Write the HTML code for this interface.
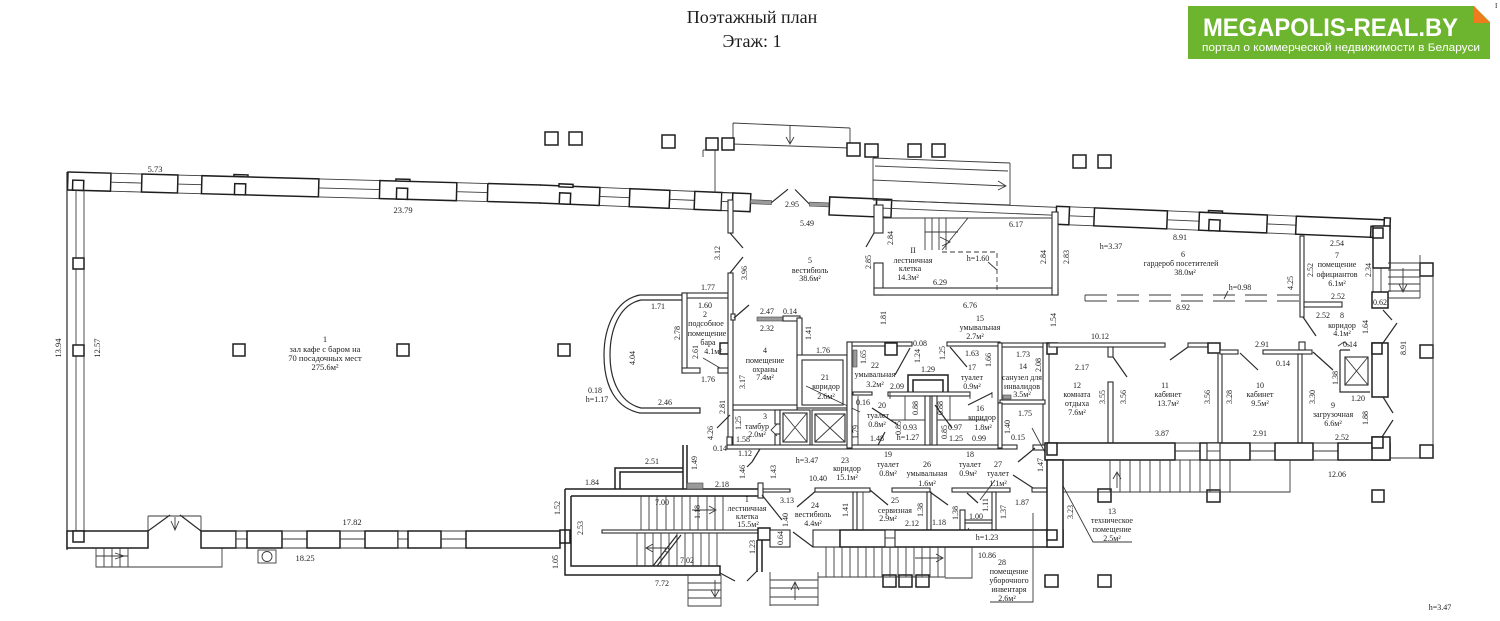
<!DOCTYPE html>
<html><head><meta charset="utf-8"><title>Поэтажный план</title>
<style>
html,body{margin:0;padding:0;background:#fff}
body{width:1500px;height:621px;overflow:hidden}
svg{display:block}
.w{fill:#fff;stroke:#1e1e1e;stroke-width:1.5}
.v{fill:#fff;stroke:#2a2a2a;stroke-width:1.1}
.k{fill:none;stroke:#1e1e1e;stroke-width:1.5}
.l{fill:none;stroke:#3a3a3a;stroke-width:.9}
.m{fill:none;stroke:#2a2a2a;stroke-width:1.2}
.d{fill:none;stroke:#3a3a3a;stroke-width:1.1;stroke-dasharray:22 10}
.g{fill:#9a9a9a;stroke:#444;stroke-width:.6}
text{font-family:"Liberation Serif","DejaVu Serif",serif;fill:#1c1c1c}
.t{font-size:8.5px;text-anchor:middle}
.s{font-size:8px;text-anchor:middle}
text.logo{font-family:"Liberation Sans","DejaVu Sans",sans-serif;fill:#fff}
</style></head><body>
<svg width="1500" height="621" viewBox="0 0 1500 621" xmlns="http://www.w3.org/2000/svg">

<!-- Title -->
<text x="752" y="23" font-size="18" text-anchor="middle">Поэтажный план</text>
<text x="752" y="47" font-size="18" text-anchor="middle">Этаж: 1</text>
<text x="1495" y="8" font-size="7">I</text>

<!-- Logo -->
<rect x="1188" y="6" width="302" height="53" fill="#6db52e"/>
<polygon points="1474,6 1490,6 1490,22" fill="#fff"/>
<polygon points="1474,6 1474,23 1490,23" fill="#f07b1c"/>
<text class="logo" x="1203" y="36" style="font-family:'Liberation Sans',sans-serif;font-weight:bold;font-size:25px;fill:#fff" textLength="255" lengthAdjust="spacingAndGlyphs">MEGAPOLIS-REAL.BY</text>
<text class="logo" x="1202" y="51" style="font-family:'Liberation Sans',sans-serif;font-size:11px;fill:#fff" textLength="278" lengthAdjust="spacingAndGlyphs">портал о коммерческой недвижимости в Беларуси</text>

<!-- Top wall part A -->
<g transform="translate(68,172) rotate(1.575)">
<rect class="w" x="0" y="0" width="43" height="18"/>
<rect class="w" x="5" y="8" width="11" height="10"/>
<path class="l" d="M43 0H74M43 9H74M43 18H74"/>
<rect class="w" x="74" y="0" width="36" height="18"/>
<path class="l" d="M110 0H134M110 9H134M110 18H134"/>
<rect class="w" x="166" y="-2" width="14" height="3"/>
<rect class="w" x="134" y="0" width="117" height="18"/>
<rect class="w" x="167" y="7" width="11" height="11"/>
<path class="l" d="M251 0H312M251 9H312M251 18H312"/>
<rect class="w" x="328" y="-2" width="14" height="3"/>
<rect class="w" x="312" y="0" width="77" height="18"/>
<rect class="w" x="329" y="7" width="11" height="11"/>
<path class="l" d="M389 0H420M389 9H420M389 18H420"/>
<path class="k" d="M420 0V18M420 0H473M420 18H473"/>
</g>
<!-- Top wall part B -->
<g transform="translate(540,185) rotate(2.36)">
<path class="k" d="M0 0H60V18H0"/>
<rect class="w" x="19" y="-2" width="14" height="3"/>
<rect class="w" x="20" y="7" width="11" height="11"/>
<path class="l" d="M60 0H90M60 9H90M60 18H90"/>
<rect class="w" x="90" y="0" width="40" height="18"/>
<path class="l" d="M130 0H155M130 9H155M130 18H155"/>
<rect class="w" x="155" y="0" width="27" height="18"/>
<rect class="v" x="182" y="0" width="11" height="18"/>
<path class="l" d="M182 9H193"/>
<rect class="w" x="193" y="0" width="18" height="18"/>
<rect class="g" x="211" y="6" width="21" height="4"/>
<path class="m" d="M232 8L248 -6M270 8L255 -6"/>
<rect class="g" x="270" y="6" width="20" height="4"/>
<rect class="w" x="290" y="0" width="47" height="18"/>
<rect class="w" x="337" y="0" width="15" height="18"/>
<path class="l" d="M337 9H352"/>
<path class="l" d="M352 1H517M352 9H517"/>
<rect class="w" x="517" y="0" width="13" height="18"/>
<path class="l" d="M530 0H555M530 9H555M530 18H555"/>
<rect class="w" x="555" y="0" width="73" height="18"/>
<path class="l" d="M628 0H660M628 9H660M628 18H660"/>
<rect class="w" x="669" y="-2" width="14" height="3"/>
<rect class="w" x="660" y="0" width="68" height="18"/>
<rect class="w" x="670" y="7" width="11" height="11"/>
<path class="l" d="M728 0H757M728 9H757M728 18H757"/>
<rect class="w" x="757" y="0" width="93" height="18"/>
<rect class="w" x="832" y="7" width="11" height="11"/>
<rect class="w" x="845" y="-2" width="6" height="14"/>
</g>

<!-- Canopy / ramp at top -->
<path class="l" d="M733 123L850 128M733 144L850 148M733 123V144M850 128V148M790 126V144M786 137L790 144L794 137"/>
<path class="l" d="M703 150H715V193M703 150V157"/>
<path class="l" d="M873 158L1010 163M873 180L1005 186M873 200L1010 205M873 158V200M1010 163V205M998 181L1006 186L998 190"/>
<path class="l" d="M875 166L1008 171"/>

<!-- outside columns -->
<g class="w">
<rect x="545" y="132" width="13" height="13"/><rect x="569" y="132" width="13" height="13"/>
<rect x="662" y="135" width="13" height="13"/><rect x="706" y="138" width="12" height="12"/>
<rect x="722" y="138" width="12" height="12"/><rect x="847" y="143" width="13" height="13"/>
<rect x="865" y="144" width="13" height="13"/><rect x="908" y="144" width="13" height="13"/>
<rect x="932" y="144" width="13" height="13"/><rect x="1073" y="155" width="13" height="13"/>
<rect x="1098" y="155" width="13" height="13"/>
<rect x="883" y="575" width="13" height="12"/><rect x="899" y="575" width="13" height="12"/>
<rect x="916" y="575" width="13" height="12"/><rect x="1045" y="575" width="13" height="12"/>
<rect x="1098" y="575" width="13" height="12"/><rect x="1098" y="489" width="13" height="13"/>
<rect x="1207" y="490" width="13" height="12"/><rect x="1372" y="490" width="12" height="12"/>
<rect x="1420" y="263" width="13" height="13"/><rect x="1420" y="345" width="13" height="13"/>
<rect x="1420" y="445" width="13" height="13"/>
</g>

<!-- Left wall -->
<path class="m" d="M67 172V550"/>
<path class="l" d="M76 190V531M84 190V531"/>
<rect class="w" x="73" y="258" width="11" height="11"/>
<rect class="w" x="73" y="345" width="11" height="11"/>

<!-- Bottom-left wall -->
<rect class="w" x="67" y="531" width="81" height="17"/>
<rect class="w" x="73" y="531" width="11" height="11"/>
<path class="l" d="M148 516H201M148 516V531M201 516V531M175 517V530M171 521L175 530L179 521"/>
<path class="m" d="M148 531L170 515M201 531L180 515"/>
<path class="l" d="M96 548V567H222V548M104 548V567M112 548V567M120 548V567M128 548V567M96 556H128M115 553L124 556L115 559"/>
<rect class="w" x="201" y="531" width="35" height="17"/>
<rect class="v" x="236" y="531" width="11" height="17"/><path class="l" d="M236 539H247"/>
<rect class="w" x="247" y="531" width="35" height="17"/>
<path class="l" d="M282 531H307M282 539H307M282 548H307"/>
<rect class="w" x="307" y="531" width="33" height="17"/>
<path class="l" d="M340 531H365M340 539H365M340 548H365"/>
<rect class="w" x="365" y="531" width="33" height="17"/>
<rect class="v" x="398" y="531" width="10" height="17"/><path class="l" d="M398 539H408"/>
<rect class="w" x="408" y="531" width="33" height="17"/>
<path class="l" d="M441 531H466M441 539H466M441 548H466"/>
<rect class="w" x="466" y="531" width="94" height="17"/>
<rect class="w" x="560" y="530" width="10" height="13"/>
<rect class="l" x="258" y="550" width="18" height="13"/><circle class="l" cx="267" cy="556.5" r="5"/>

<!-- hall columns -->
<rect class="w" x="233" y="344" width="12" height="12"/>
<rect class="w" x="397" y="344" width="12" height="12"/>
<rect class="w" x="558" y="344" width="12" height="12"/>

<!-- Bay -->
<path class="m" d="M683 295H640C614 300 604 330 604 355C604 385 615 408 640 413H700V408H641C621 403 610 382 610 355C610 332 618 305 641 300H683"/>

<!-- Room 2 -->
<rect class="v" x="682" y="293" width="46" height="5"/>
<rect class="v" x="682" y="293" width="5" height="80"/>
<rect class="v" x="682" y="368" width="18" height="5"/>
<rect class="v" x="718" y="368" width="12" height="5"/>
<rect class="w" x="720" y="343" width="11" height="11"/>
<path class="l" d="M703 358L720 368"/>

<!-- vestibule left wall -->
<rect class="v" x="728" y="200" width="5" height="33"/>
<path class="m" d="M730 233L743 248M743 257L730 273"/>
<rect class="v" x="728" y="273" width="5" height="174"/>
<rect class="v" x="731" y="314" width="4" height="6"/>
<path class="m" d="M734 318L749 305"/>

<!-- Room 4 / 21 -->
<rect class="g" x="757" y="317" width="26" height="4"/>
<rect class="v" x="783" y="316" width="17" height="5"/>
<rect class="v" x="797" y="318" width="5" height="40"/>
<rect class="v" x="797" y="355" width="50" height="53"/>
<rect class="v" x="802" y="360" width="41" height="45"/>
<rect class="v" x="733" y="405" width="64" height="5"/>
<path class="l" d="M806 386L860 412"/>

<!-- Room 3 & elevators -->
<rect class="v" x="775" y="410" width="5" height="14"/>
<rect class="v" x="775" y="434" width="5" height="13"/>
<path class="l" d="M777 424L771 430L777 436"/>
<rect class="v" x="780" y="410" width="30" height="37"/>
<rect class="v" x="783" y="413" width="24" height="29"/>
<path class="l" d="M783 413L807 442M807 413L783 442"/>
<rect class="v" x="812" y="410" width="36" height="37"/>
<rect class="v" x="815" y="414" width="30" height="28"/>
<path class="l" d="M815 414L845 442M845 414L815 442"/>
<rect class="v" x="727" y="445" width="290" height="4"/>
<rect class="v" x="727" y="437" width="5" height="8"/>
<path class="m" d="M717 428L730 415M760 449L752 462M747 467L752 462"/>

<!-- Middle block rooms 14-22 -->
<rect class="v" x="847" y="342" width="65" height="4"/>
<rect class="w" x="885" y="343" width="12" height="12"/>
<rect class="v" x="947" y="342" width="53" height="4"/>
<rect class="v" x="1000" y="343" width="47" height="4"/>
<rect class="v" x="847" y="342" width="5" height="106"/>
<rect class="g" x="853" y="350" width="4" height="17"/>
<rect class="v" x="998" y="343" width="4" height="60"/>
<rect class="v" x="1043" y="343" width="6" height="102"/>
<rect class="w" x="1047" y="343" width="10" height="11"/>
<rect class="v" x="1000" y="400" width="45" height="4"/>
<rect class="g" x="1003" y="395" width="8" height="4"/>
<path class="m" d="M910 348L895 375M950 347L967 367M992 393L968 405"/>
<path class="k" d="M908 392V375H948V392M913 392V380H943V392"/>
<rect class="v" x="888" y="392" width="82" height="4"/>
<path class="l" d="M890 392V399M970 392V399M992 392V398"/>
<rect class="v" x="853" y="392" width="19" height="3"/>
<rect class="v" x="925" y="396" width="5" height="49"/>
<rect class="v" x="932" y="396" width="5" height="49"/>
<path class="l" d="M890 420H925M937 420H987M905 396V420M950 396V420M858 396V445"/>
<path class="m" d="M872 408L898 425M935 405L952 428M878 445L885 432"/>
<rect class="v" x="998" y="403" width="4" height="45"/>
<rect class="v" x="1033" y="445" width="12" height="5"/>
<path class="m" d="M1018 462L1035 448M1013 475L1033 488"/>
<path class="l" d="M1032 428L1093 542H1132"/>

<!-- Rooms 12/11/10 -->
<rect class="v" x="1049" y="343" width="116" height="4"/>
<rect class="v" x="1108" y="347" width="5" height="10"/>
<rect class="v" x="1108" y="382" width="5" height="61"/>
<path class="m" d="M1113 357L1127 377M1170 360L1188 347"/>
<rect class="v" x="1188" y="343" width="20" height="4"/>
<rect class="w" x="1208" y="343" width="12" height="10"/>
<rect class="v" x="1218" y="353" width="4" height="90"/>
<rect class="v" x="1220" y="350" width="18" height="4"/>
<path class="m" d="M1240 353L1258 370"/>
<rect class="v" x="1263" y="350" width="49" height="4"/>
<rect class="v" x="1299" y="342" width="6" height="8"/>
<rect class="v" x="1298" y="354" width="4" height="89"/>
<path class="m" d="M1313 352L1333 370M1303 317L1316 336"/>
<!-- Room 7 -->
<rect class="v" x="1300" y="236" width="4" height="81"/>
<rect class="v" x="1304" y="302" width="38" height="5"/>
<path class="l" d="M1300 317L1303 317"/>
<!-- elevator room 9 -->
<path class="m" d="M1340 350H1350M1340 350V392H1370"/>
<rect class="v" x="1345" y="357" width="23" height="28"/>
<path class="l" d="M1345 357L1368 385M1368 357L1345 385"/>
<path class="l" d="M1338 346L1344 342L1350 346"/>

<!-- Right wall -->
<rect class="w" x="1373" y="226" width="17" height="42"/>
<rect class="w" x="1373" y="228" width="10" height="10"/>
<path class="l" d="M1373 268V292M1381 268V292M1390 268V292"/>
<rect class="w" x="1372" y="292" width="16" height="16"/>
<path class="m" d="M1383 310L1392 320M1383 343L1397 323"/>
<rect class="w" x="1372" y="343" width="16" height="54"/>
<rect class="w" x="1372" y="343" width="10" height="11"/>
<path class="m" d="M1383 397L1393 413M1382 437L1393 420"/>
<path class="l" d="M1433 276V445M1390 458H1420M1420 255V298M1388 263H1420M1388 270H1420M1388 277H1420M1388 284H1420M1388 291H1420M1388 298H1420M1403 268V292M1399 284L1403 292L1407 284"/>

<!-- bottom-right wall -->
<rect class="w" x="1045" y="443" width="130" height="17"/>
<rect class="w" x="1047" y="443" width="10" height="12"/>
<path class="l" d="M1175 443H1200M1175 451H1200M1175 460H1200"/>
<rect class="w" x="1200" y="443" width="50" height="17"/>
<rect class="v" x="1207" y="443" width="13" height="17"/><path class="l" d="M1207 451H1220"/>
<path class="l" d="M1250 443H1275M1250 451H1275M1250 460H1275"/>
<rect class="w" x="1275" y="443" width="38" height="17"/>
<path class="l" d="M1313 443H1338M1313 451H1338M1313 460H1338"/>
<rect class="w" x="1338" y="443" width="52" height="17"/>
<rect class="w" x="1372" y="437" width="18" height="23"/>
<rect class="w" x="1372" y="437" width="11" height="11"/>
<!-- stairs below rooms 11/10 -->
<path class="l" d="M1062 460V520M1062 492H1290V460M1110 460V492M1120 460V492M1130 460V492M1140 460V492M1150 460V492M1160 460V492M1170 460V492M1180 460V492M1190 460V492M1200 460V492M1210 460V492M1220 460V492M1230 460V492M1117 472V488M1113 479L1117 472L1121 479"/>

<!-- Stair II -->
<rect class="v" x="874" y="205" width="9" height="28"/>
<path class="m" d="M874 233L866 247"/>
<rect class="v" x="874" y="263" width="9" height="32"/>
<rect class="v" x="874" y="288" width="184" height="7"/>
<rect class="v" x="1052" y="212" width="6" height="83"/>
<path class="l" d="M883 218H1052"/>
<path class="l" d="M925 218V250M932 218V250M939 218V250M946 218V250M925 232H958M968 218L942 250M940 237L950 242L942 246"/>
<path class="l" stroke-dasharray="5 3" d="M942 252H997V292"/>
<path class="l" d="M988 262L997 270"/>

<!-- Room 6 counter -->
<path class="l" d="M1085 295V301"/>
<path class="d" d="M1085 295H1300M1085 301H1300"/>
<path class="l" d="M1228 291L1224 299"/>

<!-- Stair I block -->
<path class="k" d="M565 489H762M571 496H758M565 489V575H720V566H571V496"/>
<path class="k" d="M615 489V468H683M620 489V472H683M683 445V489M687 445V489"/>
<rect class="g" x="687" y="483" width="16" height="6"/>
<rect class="v" x="602" y="530" width="158" height="3"/>
<path class="l" d="M641 496V530M649 496V530M657 496V530M666 496V530M674 496V530M682 496V530M690 496V530M698 496V530M707 496V530M715 496V530M723 496V530M692 510H716M709 506L716 510L709 514"/>
<path class="l" d="M637 533V566M645 533V566M653 533V566M661 533V566M669 533V566M677 533V566M685 533V566M693 533V566M701 533V566M709 533V566M717 533V566M646 548H668M653 544L646 548L653 552"/>
<path class="m" d="M653 566L677 535M657 566L681 535"/>
<circle class="l" cx="667" cy="550" r="2"/>
<path class="l" d="M688 575V606H721V575M688 583H721M688 590H721M688 598H721M715 580V596M711 590L715 597L719 590"/>
<path class="m" d="M720 573L735 581M757 571L747 581"/>
<path class="k" d="M757 540V572M762 540V572"/>
<rect class="w" x="758" y="528" width="12" height="12"/>
<rect class="v" x="770" y="530" width="20" height="17"/>
<path class="l" d="M770 572V606M818 572V606M770 580H818M770 588H818M770 597H818M770 605H818M795 582V600M791 590L795 582L799 590"/>
<rect class="v" x="758" y="483" width="5" height="15"/>
<rect class="v" x="763" y="489" width="27" height="3"/>
<path class="m" d="M762 495L782 520M797 507L817 490M793 532L813 547"/>

<!-- vestibule 24 & rooms 25-27 -->
<rect class="v" x="815" y="488" width="55" height="4"/>
<rect class="v" x="853" y="492" width="4" height="38"/>
<path class="l" d="M863 492V530"/>
<rect class="v" x="892" y="488" width="38" height="4"/>
<rect class="v" x="927" y="492" width="4" height="38"/>
<rect class="v" x="952" y="488" width="58" height="4"/>
<rect class="v" x="992" y="492" width="4" height="38"/>
<rect class="v" x="960" y="510" width="5" height="20"/>
<rect class="v" x="965" y="520" width="27" height="3"/>
<rect class="v" x="1032" y="488" width="15" height="4"/>
<path class="m" d="M870 490L888 505M930 492L948 505M967 493L978 503"/>
<path class="l" d="M980 500L995 480M968 528L975 538H1000"/>

<!-- bottom corridor wall -->
<rect class="v" x="813" y="530" width="27" height="17"/>
<rect class="w" x="840" y="530" width="223" height="17"/>
<rect class="v" x="885" y="530" width="10" height="17"/><path class="l" d="M885 538H895"/>
<rect class="w" x="1047" y="460" width="16" height="87"/>
<rect class="w" x="1047" y="530" width="10" height="10"/>
<path class="l" d="M818 577H945V547M826 547V577M834 547V577M842 547V577M850 547V577M858 547V577M866 547V577M874 547V577M882 547V577M890 547V577M898 547V577M906 547V577M914 547V577M922 547V577M930 547V577M938 547V577M915 558H943M936 554L943 558L936 562"/>
<path class="l" d="M972 547V578H945M1033 513V602H990"/>

<!-- ===== Labels ===== -->
<text class="t" x="155" y="172">5.73</text>
<text class="t" x="403" y="213">23.79</text>
<text class="t" transform="translate(58,348) rotate(-90)" y="3">13.94</text>
<text class="t" transform="translate(97,348) rotate(-90)" y="3">12.57</text>
<text class="t" x="325" y="342">1</text>
<text class="t" x="325" y="352">зал кафе с баром на</text>
<text class="t" x="325" y="361">70 посадочных мест</text>
<text class="t" x="325" y="370">275.6м²</text>
<text class="t" x="352" y="525">17.82</text>
<text class="t" x="305" y="561">18.25</text>

<text class="s" x="708" y="290">1.77</text>
<text class="s" x="658" y="309">1.71</text>
<text class="s" x="705" y="308">1.60</text>
<text class="s" x="705" y="317">2</text>
<text class="s" x="706" y="326">подсобное</text>
<text class="s" x="707" y="336">помещение</text>
<text class="s" x="708" y="345">бара</text>
<text class="s" x="713" y="354">4.1м²</text>
<text class="s" transform="translate(677,333) rotate(-90)" y="3">2.78</text>
<text class="s" transform="translate(695,352) rotate(-90)" y="3">2.61</text>
<text class="s" transform="translate(632,358) rotate(-90)" y="3">4.04</text>
<text class="s" x="595" y="393">0.18</text>
<text class="s" x="597" y="402">h=1.17</text>
<text class="s" x="665" y="405">2.46</text>
<text class="s" x="708" y="382">1.76</text>

<text class="s" x="767" y="314">2.47</text>
<text class="s" x="790" y="314">0.14</text>
<text class="s" x="767" y="331">2.32</text>
<text class="s" transform="translate(808,333) rotate(-90)" y="3">1.41</text>
<text class="s" x="765" y="353">4</text>
<text class="s" x="765" y="363">помещение</text>
<text class="s" x="765" y="372">охраны</text>
<text class="s" x="765" y="380">7.4м²</text>
<text class="s" transform="translate(742,382) rotate(-90)" y="3">3.17</text>
<text class="s" x="823" y="353">1.76</text>
<text class="s" x="825" y="380">21</text>
<text class="s" x="826" y="389">коридор</text>
<text class="s" x="826" y="399">2.6м²</text>
<text class="s" x="765" y="419">3</text>
<text class="s" x="757" y="429">тамбур</text>
<text class="s" x="757" y="437">2.0м²</text>
<text class="s" transform="translate(738,423) rotate(-90)" y="3">1.25</text>
<text class="s" x="743" y="442">1.58</text>
<text class="s" transform="translate(722,407) rotate(-90)" y="3">2.81</text>
<text class="s" transform="translate(710,433) rotate(-90)" y="3">4.26</text>
<text class="s" x="720" y="451">0.14</text>
<text class="s" x="745" y="456">1.12</text>

<text class="s" x="792" y="207">2.95</text>
<text class="s" x="807" y="226">5.49</text>
<text class="s" transform="translate(717,253) rotate(-90)" y="3">3.12</text>
<text class="s" transform="translate(744,273) rotate(-90)" y="3">3.96</text>
<text class="s" x="810" y="263">5</text>
<text class="s" x="810" y="273">вестибюль</text>
<text class="s" x="810" y="281">38.6м²</text>
<text class="s" transform="translate(890,238) rotate(-90)" y="3">2.84</text>
<text class="s" transform="translate(868,262) rotate(-90)" y="3">2.85</text>
<text class="s" transform="translate(883,318) rotate(-90)" y="3">1.81</text>

<text class="s" x="913" y="253">II</text>
<text class="s" x="913" y="263">лестничная</text>
<text class="s" x="910" y="271">клетка</text>
<text class="s" x="908" y="280">14.3м²</text>
<text class="s" x="940" y="285">6.29</text>
<text class="s" x="970" y="308">6.76</text>
<text class="s" x="1016" y="227">6.17</text>
<text class="s" transform="translate(1043,257) rotate(-90)" y="3">2.84</text>
<text class="s" transform="translate(1066,257) rotate(-90)" y="3">2.83</text>
<text class="s" x="978" y="261">h=1.60</text>

<text class="s" x="1111" y="249">h=3.37</text>
<text class="s" x="1180" y="240">8.91</text>
<text class="s" x="1183" y="257">6</text>
<text class="s" x="1181" y="266">гардероб посетителей</text>
<text class="s" x="1185" y="275">38.0м²</text>
<text class="s" x="1183" y="310">8.92</text>
<text class="s" x="1240" y="290">h=0.98</text>

<text class="s" x="980" y="321">15</text>
<text class="s" x="980" y="330">умывальная</text>
<text class="s" x="975" y="339">2.7м²</text>
<text class="s" transform="translate(1053,320) rotate(-90)" y="3">1.54</text>
<text class="s" x="1100" y="339">10.12</text>

<text class="s" x="920" y="346">0.08</text>
<text class="s" transform="translate(863,357) rotate(-90)" y="3">1.65</text>
<text class="s" transform="translate(917,356) rotate(-90)" y="3">1.24</text>
<text class="s" transform="translate(942,353) rotate(-90)" y="3">1.25</text>
<text class="s" x="928" y="372">1.29</text>
<text class="s" x="972" y="356">1.63</text>
<text class="s" x="972" y="370">17</text>
<text class="s" x="972" y="380">туалет</text>
<text class="s" x="972" y="389">0.9м²</text>
<text class="s" transform="translate(988,360) rotate(-90)" y="3">1.66</text>
<text class="s" x="1023" y="357">1.73</text>
<text class="s" x="1023" y="369">14</text>
<text class="s" x="1022" y="380">санузел для</text>
<text class="s" x="1022" y="389">инвалидов</text>
<text class="s" x="1022" y="397">3.5м²</text>
<text class="s" transform="translate(1038,365) rotate(-90)" y="3">2.08</text>
<text class="s" x="875" y="368">22</text>
<text class="s" x="875" y="377">умывальная</text>
<text class="s" x="875" y="387">3.2м²</text>
<text class="s" x="897" y="389">2.09</text>
<text class="s" x="863" y="405">0.16</text>
<text class="s" x="882" y="408">20</text>
<text class="s" x="878" y="418">туалет</text>
<text class="s" x="877" y="427">0.8м²</text>
<text class="s" transform="translate(915,408) rotate(-90)" y="3">0.88</text>
<text class="s" x="910" y="430">0.93</text>
<text class="s" x="908" y="440">h=1.27</text>
<text class="s" transform="translate(898,428) rotate(-90)" y="3">0.85</text>
<text class="s" transform="translate(855,432) rotate(-90)" y="3">1.79</text>
<text class="s" x="877" y="441">1.48</text>
<text class="s" transform="translate(940,408) rotate(-90)" y="3">0.88</text>
<text class="s" x="980" y="411">16</text>
<text class="s" x="982" y="420">коридор</text>
<text class="s" x="983" y="430">1.8м²</text>
<text class="s" x="955" y="430">0.97</text>
<text class="s" transform="translate(944,432) rotate(-90)" y="3">0.85</text>
<text class="s" x="956" y="441">1.25</text>
<text class="s" x="979" y="441">0.99</text>
<text class="s" transform="translate(1007,427) rotate(-90)" y="3">1.40</text>
<text class="s" x="1025" y="416">1.75</text>
<text class="s" x="1018" y="440">0.15</text>
<text class="s" x="888" y="457">19</text>
<text class="s" x="888" y="467">туалет</text>
<text class="s" x="888" y="476">0.8м²</text>
<text class="s" x="970" y="457">18</text>
<text class="s" x="970" y="467">туалет</text>
<text class="s" x="968" y="476">0.9м²</text>
<text class="s" x="927" y="467">26</text>
<text class="s" x="927" y="476">умывальная</text>
<text class="s" x="927" y="486">1.6м²</text>
<text class="s" x="998" y="467">27</text>
<text class="s" x="998" y="476">туалет</text>
<text class="s" x="998" y="486">1.1м²</text>
<text class="s" transform="translate(1040,465) rotate(-90)" y="3">1.47</text>

<text class="s" x="807" y="463">h=3.47</text>
<text class="s" x="845" y="463">23</text>
<text class="s" x="847" y="471">коридор</text>
<text class="s" x="847" y="480">15.1м²</text>
<text class="s" x="818" y="481">10.40</text>
<text class="s" transform="translate(742,472) rotate(-90)" y="3">1.46</text>
<text class="s" transform="translate(773,472) rotate(-90)" y="3">1.43</text>
<text class="s" x="787" y="503">3.13</text>
<text class="s" x="815" y="508">24</text>
<text class="s" x="813" y="517">вестибюль</text>
<text class="s" x="813" y="526">4.4м²</text>
<text class="s" transform="translate(785,520) rotate(-90)" y="3">1.40</text>
<text class="s" transform="translate(845,510) rotate(-90)" y="3">1.41</text>
<text class="s" transform="translate(752,547) rotate(-90)" y="3">1.23</text>
<text class="s" transform="translate(780,538) rotate(-90)" y="3">0.64</text>
<text class="s" transform="translate(580,528) rotate(-90)" y="3">2.53</text>
<text class="s" transform="translate(557,508) rotate(-90)" y="3">1.52</text>
<text class="s" transform="translate(555,562) rotate(-90)" y="3">1.05</text>
<text class="s" x="592" y="485">1.84</text>
<text class="s" x="722" y="487">2.18</text>
<text class="s" x="652" y="464">2.51</text>
<text class="s" transform="translate(694,463) rotate(-90)" y="3">1.49</text>
<text class="s" x="662" y="505">7.00</text>
<text class="s" transform="translate(697,512) rotate(-90)" y="3">1.18</text>
<text class="s" x="687" y="563">7.02</text>
<text class="s" x="662" y="586">7.72</text>
<text class="s" x="747" y="502">I</text>
<text class="s" x="747" y="511">лестничная</text>
<text class="s" x="747" y="519">клетка</text>
<text class="s" x="748" y="527">15.5м²</text>

<text class="s" x="895" y="503">25</text>
<text class="s" x="895" y="513">сервизная</text>
<text class="s" x="888" y="521">2.9м²</text>
<text class="s" x="912" y="526">2.12</text>
<text class="s" transform="translate(920,510) rotate(-90)" y="3">1.38</text>
<text class="s" x="939" y="525">1.18</text>
<text class="s" transform="translate(955,513) rotate(-90)" y="3">1.38</text>
<text class="s" x="976" y="519">1.00</text>
<text class="s" transform="translate(985,505) rotate(-90)" y="3">1.11</text>
<text class="s" transform="translate(1003,512) rotate(-90)" y="3">1.37</text>
<text class="s" x="1022" y="505">1.87</text>
<text class="s" x="987" y="540">h=1.23</text>
<text class="s" transform="translate(1070,512) rotate(-90)" y="3">3.23</text>
<text class="s" x="1112" y="514">13</text>
<text class="s" x="1112" y="523">техническое</text>
<text class="s" x="1112" y="532">помещение</text>
<text class="s" x="1112" y="541">2.5м²</text>
<text class="s" x="987" y="558">10.86</text>
<text class="s" x="1002" y="565">28</text>
<text class="s" x="1009" y="574">помещение</text>
<text class="s" x="1009" y="583">уборочного</text>
<text class="s" x="1009" y="592">инвентаря</text>
<text class="s" x="1007" y="601">2.6м²</text>

<text class="s" x="1082" y="370">2.17</text>
<text class="s" x="1077" y="388">12</text>
<text class="s" x="1077" y="397">комната</text>
<text class="s" x="1077" y="406">отдыха</text>
<text class="s" x="1077" y="415">7.6м²</text>
<text class="s" transform="translate(1102,397) rotate(-90)" y="3">3.55</text>
<text class="s" transform="translate(1123,397) rotate(-90)" y="3">3.56</text>
<text class="s" x="1165" y="388">11</text>
<text class="s" x="1168" y="397">кабинет</text>
<text class="s" x="1168" y="406">13.7м²</text>
<text class="s" x="1162" y="436">3.87</text>

<text class="s" x="1337" y="246">2.54</text>
<text class="s" x="1337" y="258">7</text>
<text class="s" x="1337" y="267">помещение</text>
<text class="s" x="1337" y="277">официантов</text>
<text class="s" x="1337" y="286">6.1м²</text>
<text class="s" transform="translate(1310,270) rotate(-90)" y="3">2.52</text>
<text class="s" transform="translate(1368,270) rotate(-90)" y="3">2.34</text>
<text class="s" transform="translate(1290,283) rotate(-90)" y="3">4.25</text>
<text class="s" x="1338" y="299">2.52</text>
<text class="s" x="1380" y="305">0.62</text>
<text class="s" x="1323" y="318">2.52</text>
<text class="s" x="1342" y="318">8</text>
<text class="s" x="1342" y="328">коридор</text>
<text class="s" x="1342" y="336">4.1м²</text>
<text class="s" transform="translate(1365,327) rotate(-90)" y="3">1.64</text>
<text class="s" x="1350" y="347">0.14</text>
<text class="s" x="1262" y="347">2.91</text>
<text class="s" x="1283" y="366">0.14</text>
<text class="s" x="1260" y="388">10</text>
<text class="s" x="1260" y="397">кабинет</text>
<text class="s" x="1260" y="406">9.5м²</text>
<text class="s" transform="translate(1207,397) rotate(-90)" y="3">3.56</text>
<text class="s" transform="translate(1229,397) rotate(-90)" y="3">3.28</text>
<text class="s" transform="translate(1312,397) rotate(-90)" y="3">3.30</text>
<text class="s" transform="translate(1335,378) rotate(-90)" y="3">1.38</text>
<text class="s" x="1358" y="401">1.20</text>
<text class="s" x="1333" y="408">9</text>
<text class="s" x="1333" y="417">загрузочная</text>
<text class="s" x="1333" y="426">6.6м²</text>
<text class="s" transform="translate(1365,418) rotate(-90)" y="3">1.88</text>
<text class="s" x="1260" y="436">2.91</text>
<text class="s" x="1342" y="440">2.52</text>
<text class="s" x="1337" y="477">12.06</text>
<text class="s" transform="translate(1403,348) rotate(-90)" y="3">8.91</text>
<text class="s" x="1440" y="610">h=3.47</text>
</svg>
</body></html>
